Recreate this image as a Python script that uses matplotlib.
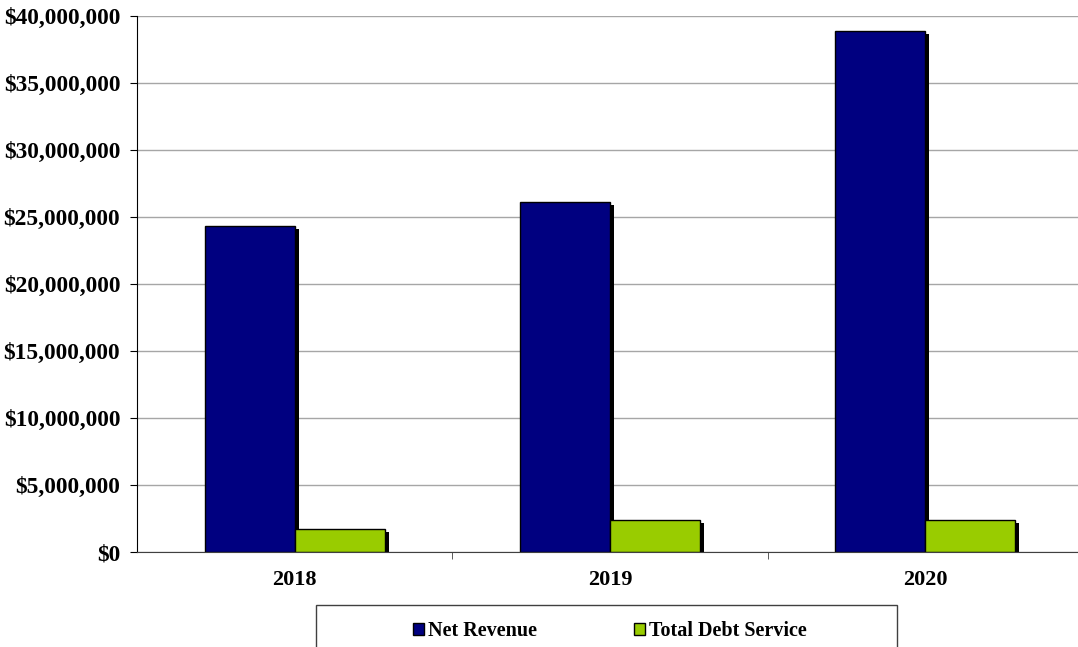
import matplotlib
matplotlib.use("Agg")
import matplotlib.pyplot as plt
import matplotlib.patheffects as pe
from matplotlib.patches import Rectangle
from matplotlib.ticker import FuncFormatter

# Revenue vs debt service per fiscal year
years = ["2018", "2019", "2020"]
net_revenue = [24_330_000, 26_120_000, 38_880_000]
debt_service = [1_720_000, 2_390_000, 2_390_000]

plt.rcParams["font.family"] = ["Liberation Serif", "DejaVu Serif"]
plt.rcParams["font.weight"] = "bold"

fig = plt.figure(figsize=(10.78, 6.47), dpi=100)
ax = fig.add_axes([0.127, 0.1468, 0.8776, 0.8285])

x = range(len(years))
width = 0.2855
shadow = [pe.SimplePatchShadow(offset=(3, -2.5), shadow_rgbFace="black", alpha=1.0), pe.Normal()]

ax.bar([i - width / 2 for i in x], net_revenue, width, color="#000080",
       edgecolor="black", linewidth=1, label="Net Revenue", path_effects=shadow, zorder=3)
ax.bar([i + width / 2 for i in x], debt_service, width, color="#99CC00",
       edgecolor="black", linewidth=1, label="Total Debt Service", path_effects=shadow, zorder=3)

ax.set_xlim(-0.5, 2.5)
ax.set_ylim(0, 40_000_000)
ax.set_yticks(range(0, 40_000_001, 5_000_000))
ax.yaxis.set_major_formatter(FuncFormatter(lambda v, _: f"${v:,.0f}"))
ax.grid(axis="y", color="#a6a6a6", linewidth=1, zorder=0)

ax.set_xticks(list(x))
ax.set_xticklabels(years)
ax.set_xticks([0.5, 1.5], minor=True)
ax.tick_params(axis="x", which="major", length=0, pad=13, labelsize=16)
ax.tick_params(axis="x", which="minor", length=5, direction="out", color="#404040")
ax.tick_params(axis="y", length=5, direction="out", pad=7, labelsize=16.8)

for side in ["top", "right"]:
    ax.spines[side].set_visible(False)
ax.spines["left"].set_color("black")
ax.spines["bottom"].set_color("#404040")
ax.spines["bottom"].set_zorder(4)

# legend frame along the bottom edge
fig.patches.append(Rectangle((0.293, -0.05), 0.539, 0.115, transform=fig.transFigure,
                             facecolor="white", edgecolor="#404040", linewidth=1))
leg = fig.legend(loc="center", bbox_to_anchor=(0.5658, 0.025), ncol=2, frameon=False,
                 handlelength=0.55, handleheight=0.55, handletextpad=0.2,
                 columnspacing=4.8, prop={"weight": "bold", "size": 14.5})
for h in leg.legend_handles:
    h.set_path_effects([])

fig.savefig("out.png", dpi=100)
